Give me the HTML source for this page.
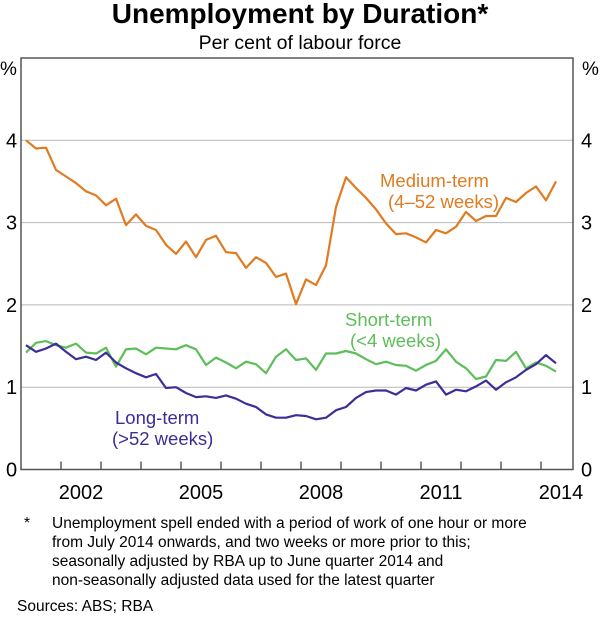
<!DOCTYPE html>
<html><head><meta charset="utf-8"><style>
body{margin:0;background:#fff;width:600px;height:617px;overflow:hidden;font-family:"Liberation Sans",Arial,sans-serif}
svg text{font-family:"Liberation Sans",Arial,sans-serif}
</style></head><body>
<svg id="chart" width="600" height="617">
<text x="300" y="23" text-anchor="middle" font-size="28" font-weight="bold" fill="#000">Unemployment by Duration*</text>
<text x="300" y="49" text-anchor="middle" font-size="19.5" fill="#000">Per cent of labour force</text>
<g id="grid"></g><g id="series"></g><g id="axes"></g>
<text x="380" y="187" font-size="18.5" fill="#E07B21">Medium-term</text>
<text x="388" y="208" font-size="18.5" fill="#E07B21">(4–52 weeks)</text>
<text x="345" y="326" font-size="18.5" fill="#5DBE5A">Short-term</text>
<text x="350" y="347" font-size="18.5" fill="#5DBE5A">(&lt;4 weeks)</text>
<text x="115" y="424" font-size="18.5" fill="#3B2E96">Long-term</text>
<text x="112" y="445" font-size="18.5" fill="#3B2E96">(&gt;52 weeks)</text>
<g font-size="15.5" fill="#000">
<text x="24" y="528">*</text>
<text x="52" y="528">Unemployment spell ended with a period of work of one hour or more</text>
<text x="52" y="547">from July 2014 onwards, and two weeks or more prior to this;</text>
<text x="52" y="566">seasonally adjusted by RBA up to June quarter 2014 and</text>
<text x="52" y="585">non-seasonally adjusted data used for the latest quarter</text>
</g>
<text x="17" y="611" font-size="15.5" fill="#000">Sources:  ABS; RBA</text>
</svg>
<script>
const yTicks=[0,1,2,3,4];
const xLabels=[2002,2005,2008,2011,2014];
const startYear=2001;
const medium=[4.00,3.90,3.91,3.64,3.56,3.48,3.38,3.33,3.21,3.29,2.97,3.10,2.96,2.91,2.73,2.62,2.77,2.58,2.79,2.84,2.64,2.63,2.45,2.58,2.51,2.34,2.38,2.01,2.31,2.24,2.48,3.19,3.55,3.42,3.30,3.16,2.99,2.86,2.87,2.82,2.76,2.91,2.87,2.95,3.13,3.02,3.08,3.08,3.30,3.25,3.36,3.44,3.27,3.50];
const shortT=[1.42,1.54,1.56,1.51,1.48,1.53,1.42,1.41,1.48,1.25,1.46,1.47,1.40,1.48,1.47,1.46,1.51,1.46,1.27,1.36,1.30,1.23,1.31,1.28,1.17,1.37,1.46,1.33,1.35,1.21,1.41,1.41,1.44,1.41,1.34,1.28,1.31,1.27,1.26,1.20,1.27,1.32,1.46,1.31,1.23,1.10,1.13,1.33,1.32,1.43,1.23,1.30,1.26,1.19];
const longT=[1.51,1.43,1.47,1.53,1.43,1.34,1.37,1.33,1.42,1.30,1.23,1.17,1.12,1.16,0.99,1.00,0.93,0.88,0.89,0.87,0.90,0.86,0.80,0.76,0.67,0.63,0.63,0.66,0.65,0.61,0.63,0.72,0.76,0.87,0.94,0.96,0.96,0.91,0.99,0.96,1.03,1.07,0.91,0.97,0.95,1.01,1.08,0.97,1.06,1.12,1.21,1.28,1.39,1.29];
const L=21,R=573,T=58,B=469.5;
const x=t=>L+(t-startYear)*40;
const y=v=>B-v*82.3;
const NS='http://www.w3.org/2000/svg';
function mk(tag,attrs,parent){const e=document.createElementNS(NS,tag);for(const k in attrs)e.setAttribute(k,attrs[k]);parent.appendChild(e);return e;}
const grid=document.getElementById('grid'),axes=document.getElementById('axes'),ser=document.getElementById('series');
yTicks.forEach(v=>{
 if(v>0){const g=mk('line',{x1:L,x2:R,y1:y(v),y2:y(v),stroke:'#b8b8b8','stroke-width':1},grid);
 
 }
 const a=mk('text',{x:6,y:y(v)+7,'font-size':20,fill:'#000'},axes);a.textContent=v;
 
 
 const b=mk('text',{x:581,y:y(v)+7,'font-size':20,fill:'#000'},axes);b.textContent=v;
 
 
});
const p1=mk('text',{x:0,y:75,'font-size':19,fill:'#000'},axes);p1.textContent='%';


const p2=mk('text',{x:582,y:75,'font-size':19,fill:'#000'},axes);p2.textContent='%';


for(let yr=2002;yr<=2014;yr++){const t=mk('line',{x1:x(yr),x2:x(yr),y1:B,y2:B-8,stroke:'#333','stroke-width':1.2},axes);
 
 }
xLabels.forEach(yr=>{const t=mk('text',{x:x(yr)+20,y:499,'text-anchor':'middle','font-size':20,fill:'#000'},axes);t.textContent=yr;
 
 });
const fr=mk('rect',{x:L,y:T,width:R-L,height:B-T,fill:'none',stroke:'#555','stroke-width':1.5},axes);


function line(data,color,name){
 const pts=data.map((v,i)=>x(startYear+0.125+i*0.25).toFixed(1)+','+y(v).toFixed(1)).join(' ');
 const p=mk('polyline',{points:pts,fill:'none',stroke:color,'stroke-width':2.2,'stroke-linejoin':'round'},ser);
 
 
}
line(shortT,'#5DBE5A','short-term-line');
line(longT,'#3B2E96','long-term-line');
line(medium,'#E07B21','medium-term-line');
</script>
</body></html>
